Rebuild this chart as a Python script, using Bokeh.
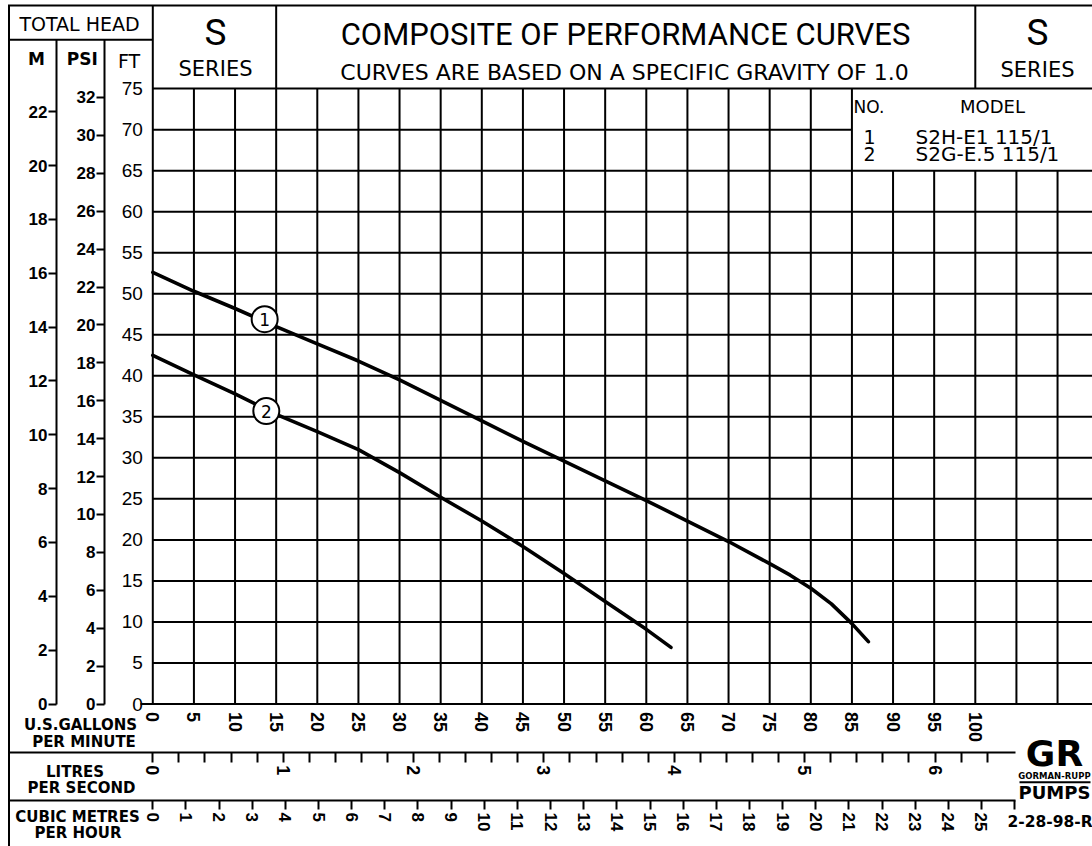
import math
from bokeh.plotting import figure
from bokeh.models import Range1d, LinearAxis, FixedTicker
from bokeh.core.properties import value
from bokeh.embed import file_html
from bokeh.resources import INLINE

# ---------------- values ----------------
curve_gpm_1 = [0, 5, 10, 15, 20, 25, 30, 35, 40, 45, 50, 55, 60, 65, 70, 75, 77.5, 80, 82.5, 85, 87]
curve_ft_1 = [52.6, 50.3, 48.2, 46.0, 43.9, 41.8, 39.5, 37.0, 34.5, 32.0, 29.6, 27.2,
              24.8, 22.3, 19.8, 17.1, 15.7, 14.1, 12.2, 9.8, 7.6]
curve_gpm_2 = [0, 5, 10, 15, 20, 25, 30, 35, 40, 45, 50, 55, 60, 63]
curve_ft_2 = [42.5, 40.1, 37.8, 35.3, 33.2, 31.0, 28.2, 25.2, 22.3, 19.2, 15.9, 12.5, 9.1, 6.9]
curve_numbers = ["1", "2"]
curve_models = ["S2H-E1 115/1", "S2G-E.5 115/1"]
tag_gpm = [13.6, 13.8]
tag_ft = [46.9, 35.7]

ft_ticks = [0, 5, 10, 15, 20, 25, 30, 35, 40, 45, 50, 55, 60, 65, 70, 75]
psi_ticks = [0, 2, 4, 6, 8, 10, 12, 14, 16, 18, 20, 22, 24, 26, 28, 30, 32]
m_ticks = [0, 2, 4, 6, 8, 10, 12, 14, 16, 18, 20, 22]
gpm_ticks = [0, 5, 10, 15, 20, 25, 30, 35, 40, 45, 50, 55, 60, 65, 70, 75, 80, 85, 90, 95, 100]
lps_ticks = [0, 1, 2, 3, 4, 5, 6]
lps_minor_ticks = [0.2, 0.4, 0.6, 0.8, 1.2, 1.4, 1.6, 1.8, 2.2, 2.4, 2.6, 2.8, 3.2, 3.4, 3.6, 3.8,
                   4.2, 4.4, 4.6, 4.8, 5.2, 5.4, 5.6, 5.8, 6.2, 6.4]
m3h_ticks = [0, 1, 2, 3, 4, 5, 6, 7, 8, 9, 10, 11, 12, 13, 14, 15, 16, 17, 18, 19, 20,
             21, 22, 23, 24, 25, 26]
m3h_unlabelled = [26]
grid_gpm = [0, 5, 10, 15, 20, 25, 30, 35, 40, 45, 50, 55, 60, 65, 70, 75, 80, 85, 90, 95, 100, 105, 110]
grid_ft = ft_ticks

FT_PER_PSI = 2.31
M_PER_FT = 0.3048
LPS_PER_GPM = 0.0630902
GPM_PER_M3H = 4.03   # as drawn on this sheet

# ---------------- layout (page pixels) ----------------
W, H = 1092, 846
OX, OY = 0, 0
PX0, PXG = 152.3, 8.225     # page x of 0 gpm, px per gpm
PY0, PYF = 703.5, 8.2053    # page y of 0 ft, px per ft


def gx(px):
    return (px - PX0) / PXG


def fy(py):
    return (PY0 - py) / PYF


x0, x1 = gx(OX), gx(OX + W)
y0, y1 = fy(OY + H), fy(OY)

p = figure(width=W, height=H, x_range=Range1d(x0, x1), y_range=Range1d(y0, y1),
           x_axis_type=None, y_axis_type=None, output_backend="svg",
           toolbar_location=None, min_border=0)
p.title.visible = False
p.outline_line_color = None
p.background_fill_color = "white"
p.border_fill_color = "white"

# ---------------- rules and grid ----------------
sx0, sy0, sx1, sy1 = [], [], [], []


def seg(a, b, c, d):
    sx0.append(a); sy0.append(b); sx1.append(c); sy1.append(d)


top = fy(5)
for g in grid_gpm:
    if g in (0, 15):
        seg(g, 0, g, top)
    elif g == 100:
        seg(g, 0, g, 65)
        seg(g, 75, g, top)
    elif g > 85:
        seg(g, 0, g, 65)
    else:
        seg(g, 0, g, 75)
for f in grid_ft:
    if f == 0:
        seg(gx(140), 0, x1, 0)
    elif f == 70:
        seg(0, f, 85, f)
    else:
        seg(0, f, x1, f)
# frame of the sheet
seg(gx(7.5), top, x1, top)
seg(gx(8.5), y0, gx(8.5), top)
seg(gx(8.5), fy(39.3), 0, fy(39.3))
# logo rule
seg(gx(1019), fy(781.7), gx(1090), fy(781.7))

p.segment(sx0, sy0, sx1, sy1, line_color="black", line_width=2)

# ---------------- curves ----------------
p.line(curve_gpm_1, curve_ft_1, line_color="black", line_width=3.6, line_join="round", line_cap="round")
p.line(curve_gpm_2, curve_ft_2, line_color="black", line_width=3.6, line_join="round", line_cap="round")
p.scatter(tag_gpm, tag_ft, marker="circle", size=26, fill_color="white",
          line_color="black", line_width=2)
p.text(tag_gpm, tag_ft, text=curve_numbers, text_font=value("DejaVu Sans"),
       text_font_size="17px", text_align="center", text_baseline="middle", text_color="black")


# ---------------- axes ----------------
def style_axis(ax, font, size, bold, tick_out, standoff):
    ax.axis_line_width = 2
    ax.axis_line_color = "black"
    ax.major_tick_line_width = 2
    ax.major_tick_line_color = "black" if tick_out else None
    ax.major_tick_out = tick_out
    ax.major_tick_in = 0
    ax.minor_tick_line_width = 2
    ax.minor_tick_line_color = "black"
    ax.minor_tick_out = tick_out
    ax.minor_tick_in = 0
    ax.major_label_standoff = standoff
    ax.major_label_text_font = font
    ax.major_label_text_font_size = size
    ax.major_label_text_font_style = "bold" if bold else "normal"
    ax.major_label_text_color = "black"


ft_axis = LinearAxis(fixed_location=0, bounds=(0, 75),
                     ticker=FixedTicker(ticks=ft_ticks, minor_ticks=[]))
style_axis(ft_axis, "Liberation Sans", "19px", False, 0, 10)
ft_axis.axis_line_color = None
p.add_layout(ft_axis, "left")

p.extra_y_ranges = {
    "psi": Range1d(y0 / FT_PER_PSI, y1 / FT_PER_PSI),
    "m": Range1d(y0 * M_PER_FT, y1 * M_PER_FT),
}
psi_axis = LinearAxis(y_range_name="psi", fixed_location=gx(104),
                      bounds=(0, fy(39.3) / FT_PER_PSI),
                      ticker=FixedTicker(ticks=psi_ticks, minor_ticks=[]))
style_axis(psi_axis, "Liberation Sans", "17px", True, 8, 1)
p.add_layout(psi_axis, "left")

m_axis = LinearAxis(y_range_name="m", fixed_location=gx(56),
                    bounds=(0, fy(39.3) * M_PER_FT),
                    ticker=FixedTicker(ticks=m_ticks, minor_ticks=[]))
style_axis(m_axis, "Liberation Sans", "17px", True, 8, 1)
p.add_layout(m_axis, "left")

gpm_axis = LinearAxis(fixed_location=0, bounds=(0, 100),
                      ticker=FixedTicker(ticks=gpm_ticks, minor_ticks=[]),
                      major_label_orientation="vertical")
style_axis(gpm_axis, "Liberation Sans", "18px", True, 0, 8)
gpm_axis.axis_line_color = None
p.add_layout(gpm_axis, "below")

p.extra_x_ranges = {
    "lps": Range1d(x0 * LPS_PER_GPM, x1 * LPS_PER_GPM),
    "m3h": Range1d(x0 / GPM_PER_M3H, x1 / GPM_PER_M3H),
}
lps_axis = LinearAxis(x_range_name="lps", fixed_location=fy(751.7),
                      bounds=(gx(8) * LPS_PER_GPM, gx(1015) * LPS_PER_GPM),
                      ticker=FixedTicker(ticks=lps_ticks, minor_ticks=lps_minor_ticks),
                      major_label_orientation="vertical")
style_axis(lps_axis, "Liberation Sans", "18px", True, 10, 3)
p.add_layout(lps_axis, "below")

m3h_axis = LinearAxis(x_range_name="m3h", fixed_location=fy(800),
                      bounds=(gx(8) / GPM_PER_M3H, gx(1015) / GPM_PER_M3H),
                      ticker=FixedTicker(ticks=m3h_ticks, minor_ticks=[]),
                      major_label_orientation="vertical",
                      major_label_overrides={t: "" for t in m3h_unlabelled})
style_axis(m3h_axis, "Liberation Sans", "17px", True, 9, 3)
p.add_layout(m3h_axis, "below")


# ---------------- texts ----------------
def label(px, py, txt, size, font="DejaVu Sans", style="normal", align="center"):
    p.text(x=[gx(px)], y=[fy(py)], text=[txt], text_font=value(font),
           text_font_size=size, text_font_style=style, text_align=align,
           text_baseline="middle", text_color="black")


THIN = "Roboto"
label(79, 23, "TOTAL HEAD", "19px")
label(36, 58.5, "M", "17px", style="bold")
label(81.7, 58.5, "PSI", "17px", style="bold")
label(128.5, 60.5, "FT", "19px")
label(215, 32, "S", "37px", font=THIN)
label(215, 68, "SERIES", "21px")
label(625, 34, "COMPOSITE OF PERFORMANCE CURVES", "31px", font=THIN)
label(624, 72, "CURVES ARE BASED ON A SPECIFIC GRAVITY OF 1.0", "22px")
label(1037, 32, "S", "37px", font=THIN)
label(1037, 69.5, "SERIES", "21px")

label(853, 106, "NO.", "17px", align="left")
label(992, 106, "MODEL", "18px")
p.text(x=[gx(869)] * 2, y=[fy(136), fy(153)], text=curve_numbers, text_font=value("DejaVu Sans"),
       text_font_size="19px", text_align="center", text_baseline="middle", text_color="black")
p.text(x=[gx(915)] * 2, y=[fy(136), fy(153)], text=curve_models, text_font=value("DejaVu Sans"),
       text_font_size="20px", text_align="left", text_baseline="middle", text_color="black")

label(80, 724, "U.S.GALLONS", "15px", style="bold")
label(83.5, 741.5, "PER MINUTE", "15px", style="bold")
label(74.5, 771, "LITRES", "15px", style="bold")
label(81, 787, "PER SECOND", "15px", style="bold")
label(77, 816, "CUBIC METRES", "15px", style="bold")
label(77.5, 832.5, "PER HOUR", "15px", style="bold")

label(1007, 821, "2-28-98-R", "15.5px", style="bold", align="left")
label(1054, 753, "GR", "36px", style="bold")
label(1054, 775, "GORMAN-RUPP", "8.5px", style="bold")
label(1054, 792, "PUMPS", "18px", style="bold")

open("out.html", "w").write(file_html(p, INLINE))
